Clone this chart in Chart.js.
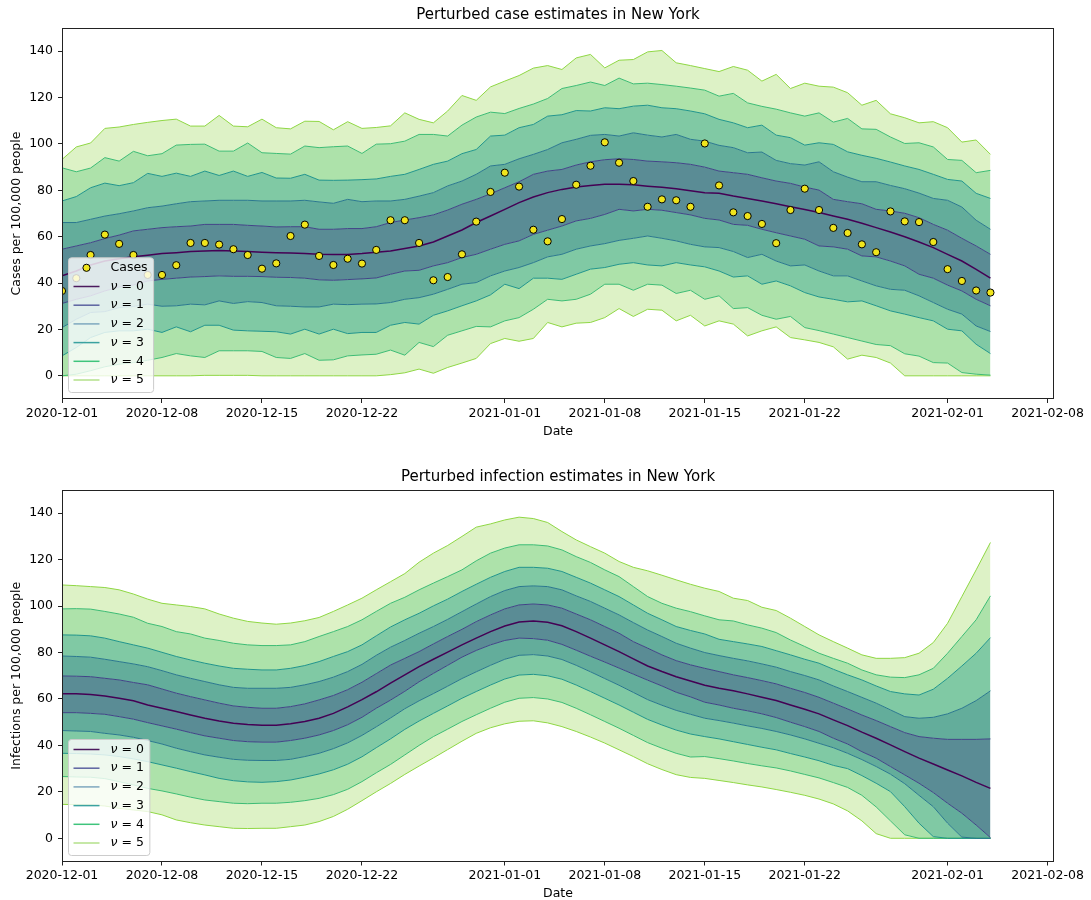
<!DOCTYPE html>
<html><head><meta charset="utf-8">
<script src="https://cdn.jsdelivr.net/npm/chart.js@4.4.1/dist/chart.umd.min.js"></script>
<style>
html,body{margin:0;padding:0;background:#fff;overflow:hidden;width:1091px;height:900px;position:relative;}
canvas{position:absolute;left:0;}
#c1{top:0;}
#c2{top:450px;}
</style></head>
<body>
<canvas id="c1" width="1091" height="460" style="width:1091px;height:460px"></canvas>
<canvas id="c2" width="1091" height="460" style="width:1091px;height:460px"></canvas>
<script>
// ---------- data ----------
const days = [0,1,2,3,4,5,6,7,8,9,10,11,12,13,14,15,16,17,18,19,20,21,22,23,24,25,26,27,28,29,30,31,32,33,34,35,36,37,38,39,40,41,42,43,44,45,46,47,48,49,50,51,52,53,54,55,56,57,58,59,60,61,62,63,64,65];
const tickDays = [0,7,14,21,31,38,45,52,62,69];
const tickLabels = ['2020-12-01','2020-12-08','2020-12-15','2020-12-22','2021-01-01','2021-01-08','2021-01-15','2021-01-22','2021-02-01','2021-02-08'];
const yTicks = [0,20,40,60,80,100,120,140];

const cases = [36.6,42.1,52.1,60.9,56.9,52.1,43.5,43.5,47.7,57.3,57.3,56.6,54.6,52.1,46.2,48.5,60.3,65.2,51.7,47.8,50.5,48.4,54.3,
 67.1,67.1,57.3,41.2,42.6,52.4,66.5,79.3,87.6,81.6,63.0,58.0,67.6,82.4,90.6,100.7,91.9,84.0,72.9,76.1,75.7,72.9,100.2,
 82.1,70.5,68.9,65.5,57.2,71.5,80.7,71.5,63.8,61.6,56.7,53.3,70.9,66.6,66.3,57.7,46.0,40.9,36.8,35.9];

const caseNu5Up = [93.3,98.7,100.4,106.7,107.3,108.4,109.3,110.1,110.7,107.7,107.7,112.3,107.7,107.4,110.7,107.0,106.5,109.8,109.7,106.1,109.6,106.7,107.1,
 107.8,113.4,110.6,109.1,114.2,120.9,118.8,124.6,127.1,129.5,132.7,133.8,132.1,137.1,138.6,132.8,136.1,136.4,139.7,140.3,135.0,133.8,132.5,
 131.2,133.4,131.8,127.1,130.0,123.9,126.2,124.9,124.5,122.1,116.7,118.8,113.0,111.3,109.1,109.6,107.0,100.8,101.7,95.5];
const caseNu4Up = [89.7,88.0,89.6,94.1,92.6,96.8,94.9,95.8,99.5,99.8,99.9,96.9,96.9,100.4,96.2,95.9,95.6,99.1,98.4,98.8,99.1,95.9,99.9,
 100.1,101.2,104.1,104.1,103.4,108.1,111.6,113.7,113.1,115.3,117.2,119.6,123.9,125.2,126.7,125.2,128.4,125.9,126.2,125.6,124.9,124.1,123.2,
 120.6,121.8,117.7,116.2,115.0,113.4,112.0,113.4,109.4,111.0,106.5,106.3,103.0,100.2,100.5,98.7,93.3,92.9,87.6,88.6];
const caseNu3Up = [75.4,77.3,81.1,83.1,82.0,83.3,87.3,86.0,87.4,86.0,88.3,86.4,88.3,86.0,87.7,85.3,85.2,86.9,84.4,84.3,84.4,84.6,84.9,
 86.0,86.9,89.0,91.2,92.6,95.8,97.6,103.4,103.8,107.0,108.4,112.0,112.6,114.4,114.2,115.6,115.2,116.3,116.7,115.6,115.2,114.2,113.0,
 110.6,109.1,107.0,108.1,103.8,102.7,99.5,100.5,99.8,96.6,95.1,93.8,92.2,90.5,89.0,86.9,84.7,84.0,78.7,76.5];
const caseNu2Up = [66.1,66.1,67.5,68.9,69.9,71.1,72.5,73.2,74.2,75.1,75.4,75.7,75.7,75.7,75.4,75.4,75.4,75.7,75.0,74.4,76.1,75.1,75.4,
 75.4,76.1,77.5,79.0,81.9,84.0,86.9,90.5,91.2,93.6,95.5,97.6,100.5,102.0,103.7,104.1,103.4,104.8,103.8,103.0,104.1,102.0,101.2,
 99.4,98.4,96.2,96.5,92.9,91.5,90.9,92.3,88.0,85.7,83.7,83.7,82.1,80.7,78.8,76.5,75.7,72.8,67.1,63.2];
const caseNu1Up = [54.6,56.0,57.4,59.2,60.7,62.5,63.2,63.9,64.3,64.6,65.3,65.3,65.3,64.9,64.6,64.2,64.3,64.3,63.2,63.2,63.5,63.5,64.3,
 66.1,67.2,68.2,69.4,71.5,74.0,76.1,78.5,81.1,83.7,86.9,88.3,89.0,90.9,92.3,93.2,93.6,93.3,92.6,92.3,91.9,91.2,90.0,
 88.3,87.6,86.9,85.4,84.0,83.0,81.4,80.1,76.1,75.1,74.2,71.8,71.1,70.1,68.2,65.3,62.8,59.3,56.0,52.4];
const caseNu0 = [43.1,45.2,47.8,49.5,50.5,51.3,52.0,52.7,53.1,53.6,53.8,54.0,53.8,53.6,53.3,53.1,53.0,52.8,52.4,52.3,52.3,52.7,53.3,
 53.8,54.9,56.0,57.7,60.3,62.9,66.1,68.9,71.8,74.7,77.1,79.0,80.4,81.4,82.1,82.6,82.6,82.4,81.8,81.3,80.7,79.8,79.0,
 78.7,77.5,76.5,75.4,74.2,72.9,71.7,70.4,68.9,67.5,65.8,63.9,62.0,60.0,57.7,55.3,52.4,49.5,45.9,42.1];
const caseNu1Lo = [31.2,33.0,34.5,36.6,38.3,39.2,40.9,41.6,42.1,42.6,42.8,43.1,42.9,42.9,42.8,42.5,42.4,42.1,41.4,41.2,41.5,41.8,42.2,
 43.8,45.2,45.5,47.4,48.8,51.0,52.4,54.6,56.7,58.2,61.0,62.8,64.6,66.8,67.9,69.6,71.8,71.1,71.8,71.4,70.4,69.4,67.9,
 67.2,65.3,64.9,63.2,61.7,60.3,58.9,56.0,55.6,54.6,51.7,51.3,49.5,47.4,43.8,42.1,39.1,36.6,33.0,30.2];
const caseNu2Lo = [20.8,24.4,27.3,27.7,29.4,29.9,30.9,30.0,30.2,30.9,30.6,32.3,31.2,32.0,31.6,30.2,30.0,29.7,29.7,30.9,30.7,30.9,31.0,
 31.6,33.0,33.7,35.2,37.3,39.5,40.2,43.1,45.2,46.7,48.8,51.3,52.4,54.6,56.0,57.0,58.4,59.3,60.3,59.3,58.2,56.7,55.6,
 55.3,53.6,51.0,52.4,49.5,47.4,47.8,45.2,43.1,43.1,40.9,38.8,37.3,36.9,34.5,31.6,28.7,26.6,21.5,19.1];
const caseNu3Lo = [8.6,12.2,16.5,18.7,19.4,19.4,20.1,18.7,21.1,19.0,21.8,21.8,19.7,19.4,19.2,19.0,18.0,20.1,18.0,20.1,18.2,18.7,18.7,
 21.8,23.0,22.3,26.1,28.0,30.2,32.3,34.9,39.5,37.6,42.1,42.1,41.6,43.8,46.0,46.7,48.1,48.8,47.8,47.4,48.8,47.8,47.0,
 45.2,42.6,43.1,39.5,40.9,38.8,35.9,34.0,33.0,31.9,32.3,30.2,28.0,26.6,25.1,23.7,20.1,19.4,13.6,9.6];
const caseNu4Lo = [0,0.7,2.2,3.9,5.0,5.7,6.7,7.9,9.6,8.6,7.9,10.8,10.8,10.8,10.5,7.9,7.5,9.6,6.7,6.9,8.6,9.0,9.3,
 11.1,8.9,14.4,12.6,17.5,19.4,21.3,21.1,23.7,25.1,28.7,33.0,32.3,33.0,35.2,39.5,39.5,36.9,39.5,39.1,35.5,36.9,33.0,
 34.5,29.0,29.4,26.1,24.4,25.6,20.8,19.5,18.0,16.5,15.0,13.5,13.0,9.5,8.5,5.7,5.5,1.4,0.7,0.3];
const caseNu5Lo = [0,0,0,0,0,0,0,0,0,0,0.2,0.2,0.2,0.2,0,0,0,0,0,0,0,0,0,
 0.5,1.3,2.9,1.1,3.6,5.5,7.5,13.9,16.1,14.9,16.1,23.0,21.1,22.7,23.0,25.1,29.0,25.6,28.7,28.3,23.7,26.1,21.5,
 23.7,22.3,17.2,19.4,21.1,16.5,15.5,14.4,12.5,7.2,8.9,7.9,5.5,0,0,0,0,0,0,0];

const infNu5Up = [109.1,108.8,108.4,108.0,107.0,105.2,103.0,101.2,100.5,99.8,98.8,96.6,94.8,93.4,92.7,92.2,92.7,93.7,95.1,97.7,100.5,103.4,107.0,
 110.5,114.0,118.9,122.8,126.1,130.0,134.0,135.4,137.1,138.3,137.7,136.0,132.1,128.5,125.6,122.8,119.2,116.7,115.2,113.3,111.3,109.4,
 107.7,106.3,103.4,102.4,99.5,98.1,94.8,91.2,87.6,84.7,81.9,79.0,77.5,77.5,77.8,79.7,84.3,92.6,104.1,115.6,127.4];
const infNu4Up = [98.8,98.9,98.7,97.7,96.6,95.2,92.6,91.2,89.0,88.0,86.2,85.2,84.0,83.3,83.0,83.0,83.3,84.7,86.9,89.0,91.2,94.1,97.7,
 101.2,103.8,107.0,109.9,112.7,115.6,119.5,122.8,125.0,126.4,126.4,125.9,124.2,121.3,118.8,115.6,112.7,108.4,104.1,101.2,99.1,97.6,
 95.8,94.1,93.6,91.9,90.5,88.6,85.4,82.6,79.7,77.5,75.4,72.5,70.4,69.4,69.2,70.4,73.2,79.7,86.9,94.1,104.4];
const infNu3Up = [87.6,87.5,87.2,86.2,84.7,83.3,81.9,80.1,78.3,76.8,75.4,74.2,73.2,72.8,72.5,72.5,73.2,74.4,76.1,78.3,80.4,83.3,87.2,
 91.0,94.1,96.9,100.1,103.0,106.3,109.4,112.4,114.9,116.7,116.7,116.3,114.9,112.4,109.9,107.0,104.1,100.5,96.9,94.1,91.2,89.5,
 88.0,85.7,84.7,83.7,82.6,80.8,79.0,77.1,75.4,72.8,70.4,68.2,65.6,63.2,62.2,61.7,64.2,68.9,74.2,79.7,86.4];
const infNu2Up = [78.5,78.3,78.0,77.1,76.1,75.1,73.9,72.2,70.4,68.9,67.5,66.1,65.0,64.6,64.6,64.6,65.0,66.1,67.5,69.4,71.8,74.9,78.8,
 82.3,85.2,88.3,91.2,94.3,97.6,100.9,104.1,106.7,108.4,108.7,108.4,107.0,104.4,102.0,99.1,96.2,92.9,89.7,86.9,84.0,81.9,
 80.0,78.7,77.5,76.4,75.1,73.7,71.8,70.1,68.2,65.6,63.2,60.7,58.2,55.3,52.4,51.7,52.1,53.6,56.0,59.3,63.5];
const infNu1Up = [69.9,69.8,69.6,68.9,68.2,67.1,66.1,64.3,62.5,61.0,59.6,58.2,57.0,56.4,56.0,56.0,56.7,57.9,59.6,61.5,64.0,67.2,70.9,
 74.6,77.5,80.4,83.7,86.9,90.0,93.3,96.2,98.8,100.5,100.9,100.5,99.1,96.6,94.1,91.2,88.3,84.7,81.9,79.0,76.5,74.7,
 73.2,71.8,70.4,69.2,67.9,66.5,64.6,62.8,60.7,58.2,55.7,53.1,50.7,48.1,45.5,43.8,43.1,42.6,42.6,42.6,42.8];
const infNu0 = [62.2,62.2,61.9,61.3,60.3,59.2,57.4,56.0,54.6,53.1,51.7,50.5,49.5,49.0,48.7,48.7,49.3,50.3,51.7,53.8,56.6,59.7,63.1,
 66.8,70.4,73.9,77.1,80.2,83.3,86.2,89.0,91.4,93.1,93.6,93.0,91.5,89.0,86.2,83.3,80.4,77.3,74.2,71.8,69.6,67.7,
 65.9,64.6,63.5,62.2,60.7,59.3,57.4,55.6,53.6,51.0,48.5,45.7,43.1,40.2,37.3,34.5,32.0,29.4,26.9,24.1,21.5];
const infNu1Lo = [54.1,54.1,53.8,53.4,52.4,51.3,49.8,48.4,47.0,45.5,44.1,43.1,42.1,41.6,41.4,41.4,42.1,43.1,44.5,46.4,48.9,52.1,56.0,
 59.5,63.3,67.4,71.0,74.5,78.0,80.9,83.3,85.2,86.2,86.0,85.3,83.5,81.0,78.4,75.9,73.3,70.7,68.1,65.6,62.9,60.9,
 58.6,57.4,56.0,54.9,53.6,52.0,50.0,48.1,46.0,43.1,40.6,37.3,34.5,30.9,27.3,23.7,19.7,15.1,10.8,5.7,0.3];
const infNu2Lo = [46.4,46.2,46.0,45.2,44.5,43.5,42.1,40.6,38.8,37.3,35.9,34.9,34.0,33.6,33.5,33.5,34.0,35.2,36.6,38.6,41.1,44.3,48.0,
 51.8,55.8,59.2,62.3,65.5,68.8,71.7,74.5,77.1,78.8,79.1,78.5,77.0,74.5,71.7,68.8,65.9,62.8,59.7,57.3,55.1,53.4,
 51.7,50.7,49.6,48.4,47.3,46.0,44.5,42.8,40.9,39.0,36.6,33.9,30.9,27.6,23.5,18.5,13.6,6.5,0.5,0,0];
const infNu3Lo = [36.6,36.5,36.3,35.9,35.2,34.2,33.0,31.6,30.2,28.7,27.3,25.8,24.8,24.3,24.1,24.4,25.1,26.3,27.7,29.5,31.9,35.1,39.0,
 42.8,46.9,50.5,53.8,57.0,60.3,63.2,66.0,68.6,70.3,70.6,70.0,68.5,66.0,63.2,60.3,57.4,54.3,51.2,48.8,46.6,44.9,
 43.8,42.8,41.6,40.4,39.2,38.1,36.5,35.0,33.4,31.4,30.0,27.0,23.7,20.1,13.6,6.5,0.7,0,0,0,0];
const infNu4Lo = [26.6,26.4,26.3,25.7,24.4,23.0,21.5,20.4,19.1,17.7,16.5,15.8,15.1,14.9,15.1,15.1,15.5,16.2,17.2,18.8,21.1,24.4,28.2,
 31.8,35.9,40.0,43.8,47.0,50.3,53.2,56.0,58.6,60.3,60.6,60.0,58.5,56.0,53.2,50.3,47.4,44.3,41.2,38.8,36.6,35.0,
 35.2,34.3,33.3,32.2,31.2,30.3,29.0,27.5,26.0,24.0,21.9,18.5,13.5,7.5,1.5,0,0,0,0,0,0];
const infNu5Lo = [14.6,14.5,14.4,13.9,12.9,12.2,11.5,10.1,7.9,6.7,5.7,5.0,4.3,4.2,4.3,4.3,5.0,5.7,7.2,9.4,12.5,16.2,20.0,
 23.6,27.5,31.1,34.6,38.2,41.8,45.2,47.6,49.3,50.4,50.6,49.7,48.1,46.0,43.6,41.0,38.1,35.2,32.1,29.6,27.4,26.2,
 25.8,24.9,24.0,23.0,22.1,21.0,19.8,18.5,16.9,14.8,11.8,7.5,2.0,0,0,0,0,0,0,0,0];

// ---------- styling ----------
const FONT = '"DejaVu Sans", "Liberation Sans", sans-serif';
const lineColors = ['#440154','#414487','#2a788e','#20958b','#3dbc74','#8fd744'];
const legendColors = ['#4b1a5e','#5b62a0','#7fa8bf','#3ba2a0','#3fc47c','#b3e08a'];
const bandColors = [null,'#5a8c95','#63ad9b','#80c9a4','#ade2aa','#ddf2c6'];
const caseColor = '#f0e51c';

function pts(arr){ return arr.map((v,i)=>({x:days[i], y:v})); }
function lineDs(label, arr, nu, fillTo, bandNu){
  return {label, data:pts(arr), borderColor:lineColors[nu], borderWidth: nu===0?1.5:1,
    pointRadius:0, pointHoverRadius:0, tension:0, order: nu,
    fill: fillTo, backgroundColor: bandNu ? bandColors[bandNu] : 'rgba(0,0,0,0)'};
}
function bandSet(u5,u4,u3,u2,u1,m0,l1,l2,l3,l4,l5){
  return [
    lineDs('u5',u5,5,'+1',5), lineDs('u4',u4,4,'+1',4), lineDs('u3',u3,3,'+1',3),
    lineDs('u2',u2,2,'+1',2), lineDs('u1',u1,1,'+1',1), lineDs('m0',m0,0,'+1',1),
    lineDs('l1',l1,1,'+1',2), lineDs('l2',l2,2,'+1',3), lineDs('l3',l3,3,'+1',4),
    lineDs('l4',l4,4,'+1',5), lineDs('l5',l5,5,false,0)
  ];
}

const framePlugin = {
  id:'frame',
  afterDraw(chart, args, o){
    const ctx = chart.ctx, a = chart.chartArea;
    ctx.save();
    ctx.strokeStyle = '#222'; ctx.lineWidth = 1;
    ctx.strokeRect(Math.round(a.left)+0.5, Math.round(a.top)+0.5, Math.round(a.right-a.left)-1, Math.round(a.bottom-a.top)-1);
    ctx.fillStyle = '#000'; ctx.font = '15px '+FONT; ctx.textAlign='center'; ctx.textBaseline='middle';
    ctx.fillText(o.title, (a.left+a.right)/2, o.titleY);
    // legend
    const items = o.items;
    const rowH = 18.7, x0 = Math.round(a.left)+6.5;
    const h = 10 + (items.length-1)*rowH + 12.5;
    const y0 = Math.round(a.bottom) - 6.5 - h;
    ctx.font = '12.5px '+FONT;
    let tw = 0;
    items.forEach(it=>{ tw = Math.max(tw, ctx.measureText(it.text||'ν = 0').width); });
    const w = 42 + tw + 6;
    ctx.beginPath();
    if (ctx.roundRect) ctx.roundRect(x0, y0, w, h, 3); else ctx.rect(x0,y0,w,h);
    ctx.fillStyle = 'rgba(255,255,255,0.8)'; ctx.fill();
    ctx.strokeStyle = '#cccccc'; ctx.lineWidth = 1; ctx.stroke();
    items.forEach((it,i)=>{
      const cy = y0 + 10 + i*rowH;
      if (it.kind==='marker'){
        ctx.beginPath(); ctx.arc(x0+18, cy, 3.6, 0, Math.PI*2);
        ctx.fillStyle = caseColor; ctx.fill(); ctx.strokeStyle='#000'; ctx.lineWidth=1; ctx.stroke();
        ctx.fillStyle='#000'; ctx.textAlign='left'; ctx.textBaseline='middle';
        ctx.font = '12.5px '+FONT; ctx.fillText(it.text, x0+42, cy);
      } else {
        ctx.beginPath(); ctx.moveTo(x0+5, cy); ctx.lineTo(x0+31, cy);
        ctx.strokeStyle = legendColors[it.nu]; ctx.lineWidth = 1.5; ctx.stroke();
        ctx.fillStyle='#000'; ctx.textAlign='left'; ctx.textBaseline='middle';
        ctx.font = 'italic 12.5px '+FONT; ctx.fillText('ν', x0+42, cy);
        const nw = ctx.measureText('ν').width;
        ctx.font = '12.5px '+FONT; ctx.fillText(' = '+it.nu, x0+42+nw, cy);
      }
    });
    ctx.restore();
  }
};

const nuItems = [0,1,2,3,4,5].map(n=>({kind:'line', nu:n}));

function makeOptions(o){
  const tickFont = {family:FONT, size:12.5};
  return {
    responsive:false, animation:false, devicePixelRatio:1, events:[],
    layout:{padding:{top:o.padTop, left:0, right:37, bottom:0}},
    plugins:{legend:{display:false}, tooltip:{enabled:false}, title:{display:false},
      filler:{drawTime:'beforeDatasetsDraw'},
      frame:{title:o.title, titleY:o.titleY, items:o.items}},
    scales:{
      x:{type:'linear', min:0, max:69.45,
        afterFit:(s)=>{ s.height = o.xH; },
        afterBuildTicks:(s)=>{ s.ticks = tickDays.map(v=>({value:v})); },
        ticks:{autoSkip:false, maxRotation:0, minRotation:0, padding:3, color:'#000', font:tickFont,
          callback:(v)=>{ const k = tickDays.indexOf(v); return k>=0 ? tickLabels[k] : ''; }},
        grid:{display:true, drawOnChartArea:false, drawTicks:true, tickLength:4, color:'#222', lineWidth:1},
        border:{display:false},
        title:{display:true, text:'Date', color:'#000', font:tickFont, padding:{top:0, bottom:o.datePad}}
      },
      y:{type:'linear', min:-10, max:150,
        afterFit:(s)=>{ s.width = 62; },
        afterBuildTicks:(s)=>{ s.ticks = yTicks.map(v=>({value:v})); },
        ticks:{padding:5, color:'#000', font:tickFont},
        grid:{display:true, drawOnChartArea:false, drawTicks:true, tickLength:4, color:'#222', lineWidth:1},
        border:{display:false},
        title:{display:true, text:o.ylabel, color:'#000', font:tickFont, padding:{top:9.5, bottom:0}}
      }
    }
  };
}

Chart.defaults.font.family = FONT;

const topSets = bandSet(caseNu5Up,caseNu4Up,caseNu3Up,caseNu2Up,caseNu1Up,caseNu0,caseNu1Lo,caseNu2Lo,caseNu3Lo,caseNu4Lo,caseNu5Lo);
topSets.push({label:'Cases', data:pts(cases), showLine:false, pointRadius:3.6, pointHoverRadius:3.6,
  pointBackgroundColor:caseColor, pointBorderColor:'#000', pointBorderWidth:1, borderColor:'#000',
  backgroundColor:caseColor, fill:false, order:-1});

new Chart(document.getElementById('c1'), {
  type:'line',
  data:{datasets:topSets},
  options:makeOptions({padTop:28, xH:61, datePad:21, titleY:15,
    title:'Perturbed case estimates in New York', ylabel:'Cases per 100,000 people',
    items:[{kind:'marker', text:'Cases'}].concat(nuItems)}),
  plugins:[framePlugin]
});

const botSets = bandSet(infNu5Up,infNu4Up,infNu3Up,infNu2Up,infNu1Up,infNu0,infNu1Lo,infNu2Lo,infNu3Lo,infNu4Lo,infNu5Lo);
new Chart(document.getElementById('c2'), {
  type:'line',
  data:{datasets:botSets},
  options:makeOptions({padTop:40, xH:48.5, datePad:9, titleY:27,
    title:'Perturbed infection estimates in New York', ylabel:'Infections per 100,000 people',
    items:nuItems}),
  plugins:[framePlugin]
});
</script>
</body></html>
